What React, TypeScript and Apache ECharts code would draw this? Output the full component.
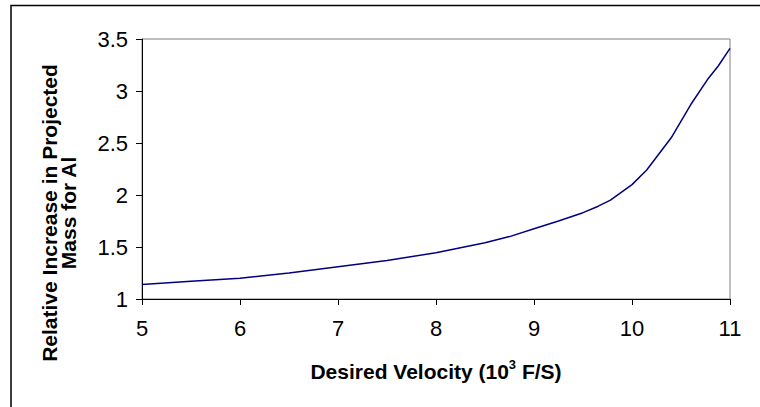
import React, { useEffect, useRef } from "react";
import * as echarts from "echarts";

const velocities = [5, 5.5, 6, 6.5, 7, 7.5, 8, 8.5, 8.75, 9, 9.25, 9.5, 9.65, 9.78, 10, 10.15, 10.4, 10.6, 10.77, 10.88, 11];
const massRatio = [1.14, 1.17, 1.2, 1.25, 1.31, 1.37, 1.445, 1.54, 1.6, 1.675, 1.75, 1.83, 1.89, 1.95, 2.1, 2.24, 2.55, 2.87, 3.11, 3.24, 3.41];
const xTicks = [5, 6, 7, 8, 9, 10, 11];
const yTicks = [1, 1.5, 2, 2.5, 3, 3.5];

const FONT = "'Liberation Sans', Arial, sans-serif";

export default function App() {
  const ref = useRef<HTMLDivElement>(null);
  useEffect(() => {
    if (!ref.current) return;
    const chart = echarts.init(ref.current, undefined, { renderer: "svg" });
    chart.setOption({
      animation: false,
      backgroundColor: "#ffffff",
      grid: {
        left: 142,
        top: 39,
        right: 30,
        bottom: 108,
        show: true,
        borderColor: "#808080",
        borderWidth: 1,
        backgroundColor: "transparent",
      },
      xAxis: {
        type: "value",
        min: xTicks[0],
        max: xTicks[xTicks.length - 1],
        interval: 1,
        splitLine: { show: false },
        axisLine: { show: true, lineStyle: { color: "#000", width: 1 } },
        axisTick: { show: true, length: 6, lineStyle: { color: "#000" } },
        axisLabel: { color: "#000", fontSize: 22, fontFamily: FONT, margin: 18 },
        name: "{t|Desired Velocity (10}{s|3}{t| F/S)}",
        nameLocation: "middle",
        nameGap: 59,
        nameTextStyle: {
          rich: {
            t: { fontSize: 21, fontWeight: "bold", fontFamily: FONT, color: "#000", lineHeight: 24, verticalAlign: "bottom" },
            s: { fontSize: 13, fontWeight: "bold", fontFamily: FONT, color: "#000", lineHeight: 24, verticalAlign: "top" },
          },
        },
      },
      yAxis: {
        type: "value",
        min: yTicks[0],
        max: yTicks[yTicks.length - 1],
        interval: 0.5,
        splitLine: { show: false },
        axisLine: { show: true, lineStyle: { color: "#000", width: 1 } },
        axisTick: { show: true, length: 6, lineStyle: { color: "#000" } },
        axisLabel: { color: "#000", fontSize: 22, fontFamily: FONT, margin: 14 },
      },
      graphic: [
        {
          type: "rect",
          shape: { x: 11, y: 5.5, width: 900, height: 600 },
          style: { fill: "none", stroke: "#000", lineWidth: 1.5 },
          silent: true,
        },
        {
          type: "text",
          x: 59,
          y: 213,
          rotation: Math.PI / 2,
          style: {
            text: "Relative Increase in Projected\nMass for Al",
            fontSize: 21,
            fontWeight: "bold",
            fontFamily: FONT,
            fill: "#000",
            align: "center",
            verticalAlign: "middle",
            lineHeight: 19,
          },
        },
      ],
      series: [
        {
          type: "line",
          data: velocities.map((v, i) => [v, massRatio[i]]),
          showSymbol: false,
          smooth: false,
          lineStyle: { color: "#000080", width: 1.5 },
        },
      ],
    });
    return () => chart.dispose();
  }, []);
  return (
    <div
      ref={ref}
      style={{ position: "fixed", left: 0, top: 0, width: 760, height: 407, background: "#fff" }}
    />
  );
}
